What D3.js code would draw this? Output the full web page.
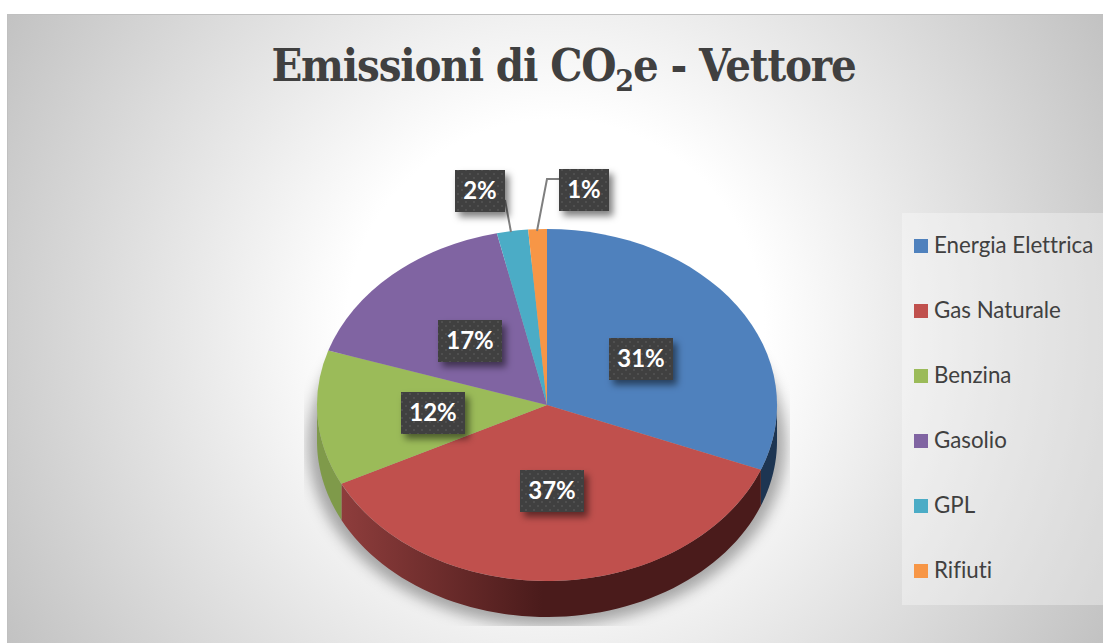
<!DOCTYPE html>
<html>
<head>
<meta charset="utf-8">
<script src="https://cdn.jsdelivr.net/npm/d3@7"></script>
<style>
html, body { margin: 0; padding: 0; background: #fff; overflow: hidden; }
svg { display: block; }
text { font-variant-ligatures: none; }
</style>
</head>
<body>
<div id="chart"></div>
<script>
//chart data
var categories = ["Energia Elettrica", "Gas Naturale", "Benzina", "Gasolio", "GPL", "Rifiuti"];
var values = [31.0, 36.6, 12.4, 16.5, 2.2, 1.3];
var labels = ["31%", "37%", "12%", "17%", "2%", "1%"];
var colors = ["#4f81bd", "#c0504d", "#9bbb59", "#8064a2", "#4bacc6", "#f79646"];
var wallLeft = ["#1d3552", "#8e3d3c", "#7f9a4a", "#5a4672", "#2f7386", "#a8652f"];
var wallRight = ["#1d3552", "#4a1b1b", "#7f9a4a", "#5a4672", "#2f7386", "#a8652f"];

var width = 1103;
var height = 643;

//pie geometry
var cx = 547, cy = 405;
var rx = 230, ry = 176;
var depth = 36;
var labelRadius = 0.495;

var svg = d3.select("#chart").append("svg")
	.attr("width", width)
	.attr("height", height);

var defs = svg.append("defs");

//panel background
var bg = defs.append("radialGradient")
	.attr("id", "panelBg")
	.attr("gradientUnits", "userSpaceOnUse")
	.attr("cx", 555).attr("cy", 328).attr("r", 632);
bg.append("stop").attr("offset", "0.33").attr("stop-color", "#ffffff");
bg.append("stop").attr("offset", "1").attr("stop-color", "#c2c2c2");

svg.append("rect")
	.attr("x", 7.5).attr("y", 14.5)
	.attr("width", width).attr("height", height)
	.style("fill", "url(#panelBg)")
	.style("stroke", "#c0c0c0");

//legend backing
svg.append("rect")
	.attr("x", 902).attr("y", 213)
	.attr("width", 201).attr("height", 392)
	.style("fill", "#ffffff")
	.style("fill-opacity", 0.33);

//title
var title = svg.append("text")
	.attr("x", 563.5).attr("y", 81)
	.attr("text-anchor", "middle")
	.style("font-family", "'DejaVu Serif Condensed', 'DejaVu Serif', serif")
	.style("font-weight", "bold")
	.style("font-size", "45px")
	.style("letter-spacing", "-1.15px")
	.style("fill", "#404040");
title.append("tspan").text("Emissioni di CO");
title.append("tspan").attr("dy", 10).style("font-size", "30px").text("2");
title.append("tspan").attr("dy", -10).text("e - Vettore");

//filters
var blur = defs.append("filter")
	.attr("id", "pieBlur")
	.attr("filterUnits", "userSpaceOnUse")
	.attr("x", 200).attr("y", 150).attr("width", 700).attr("height", 560);
blur.append("feGaussianBlur").attr("stdDeviation", 7);

var labelShadow = defs.append("filter")
	.attr("id", "labelShadow")
	.attr("x", "-30%").attr("y", "-30%").attr("width", "170%").attr("height", "180%");
labelShadow.append("feDropShadow")
	.attr("dx", 4).attr("dy", 5).attr("stdDeviation", 3.5)
	.attr("flood-color", "#000").attr("flood-opacity", 0.5);

//shadow is cut off by a rectangle around the pie
defs.append("clipPath").attr("id", "shadowClip")
	.append("rect")
	.attr("x", 304).attr("y", 190).attr("width", 486).attr("height", 436);

svg.append("g")
	.attr("clip-path", "url(#shadowClip)")
	.append("ellipse")
	.attr("cx", cx).attr("cy", cy + depth + 3)
	.attr("rx", rx + 9).attr("ry", ry + 6)
	.attr("filter", "url(#pieBlur)")
	.style("fill", "#000")
	.style("fill-opacity", 0.32);

//slices
var pie = d3.pie().sort(null).value(function(d) { return d; });
var slices = pie(values);

var xScale = d3.scaleLinear().domain([-1, 1]).range([cx - rx, cx + rx]);
var yScale = d3.scaleLinear().domain([-1, 1]).range([cy - ry, cy + ry]);

function rimX(a) { return xScale(Math.sin(a)); }
function rimY(a) { return yScale(-Math.cos(a)); }

//outer wall, only the front half of the pie shows it
var wallLine = d3.line();
slices.forEach(function(d, i)
{
	var a0 = Math.max(d.startAngle, Math.PI / 2);
	var a1 = Math.min(d.endAngle, Math.PI * 1.5);
	if(a1 <= a0)
	{
		return;
	}

	var top = d3.range(0, 61).map(function(k)
	{
		var a = a0 + (a1 - a0) * k / 60;
		return [rimX(a), rimY(a)];
	});
	var bottom = top.map(function(p) { return [p[0], p[1] + depth]; }).reverse();

	var xs = top.map(function(p) { return p[0]; });
	var grad = defs.append("linearGradient")
		.attr("id", "wall" + i)
		.attr("gradientUnits", "userSpaceOnUse")
		.attr("x1", d3.min(xs)).attr("x2", d3.max(xs))
		.attr("y1", 0).attr("y2", 0);
	grad.append("stop").attr("offset", "0").attr("stop-color", wallLeft[i]);
	grad.append("stop").attr("offset", "0.48").attr("stop-color", wallRight[i]);

	svg.append("path")
		.attr("d", wallLine(top.concat(bottom)) + "Z")
		.style("fill", "url(#wall" + i + ")");
});

//top face, a circle arc squashed into an ellipse
var arc = d3.arc().innerRadius(0).outerRadius(1);
svg.append("g")
	.attr("transform", "translate(" + cx + "," + cy + ") scale(" + rx + "," + ry + ")")
	.selectAll("path")
	.data(slices)
	.enter().append("path")
	.attr("d", arc)
	.style("fill", function(d, i) { return colors[i]; });

//dotted texture of the label boxes
var dots = defs.append("pattern")
	.attr("id", "labelDots")
	.attr("patternUnits", "userSpaceOnUse")
	.attr("width", 8).attr("height", 8);
dots.append("rect").attr("width", 8).attr("height", 8).style("fill", "#404040");
dots.append("circle").attr("cx", 2).attr("cy", 2).attr("r", 1).style("fill", "#555555");
dots.append("circle").attr("cx", 6).attr("cy", 6).attr("r", 1).style("fill", "#555555");

//leader lines of the two small slices
var leader = d3.line();
[[[505, 200], [511, 232]], [[559, 179], [547, 179], [537, 231]]].forEach(function(pts)
{
	svg.append("path")
		.attr("d", leader(pts))
		.style("fill", "none")
		.style("stroke", "#7f7f7f")
		.style("stroke-width", 2);
});

//labels sit inside the slice, the two small ones are pulled out
var outside = { 4: [480, 191], 5: [584, 190] };
var nudgeY = [3, -1, 1, 0, 0, 0];
slices.forEach(function(d, i)
{
	var mid = (d.startAngle + d.endAngle) / 2;
	var px = outside[i] ? outside[i][0] : xScale(Math.sin(mid) * labelRadius);
	var py = outside[i] ? outside[i][1] : yScale(-Math.cos(mid) * labelRadius) + nudgeY[i];
	var w = labels[i].length > 2 ? 64 : 50;

	svg.append("rect")
		.attr("x", Math.round(px - w / 2)).attr("y", Math.round(py - 21))
		.attr("width", w).attr("height", 42)
		.attr("filter", "url(#labelShadow)")
		.style("fill", "url(#labelDots)");

	svg.append("text")
		.attr("x", Math.round(px)).attr("y", Math.round(py) + 8)
		.attr("text-anchor", "middle")
		.style("font-family", "Lato, sans-serif")
		.style("font-weight", "bold")
		.style("font-size", "24px")
		.style("fill", "#ffffff")
		.text(labels[i]);
});

//legend
var legendY = d3.scalePoint().domain(categories).range([246, 571]);
var legend = svg.append("g").selectAll("g")
	.data(categories)
	.enter().append("g")
	.attr("transform", function(d) { return "translate(914," + legendY(d) + ")"; });

legend.append("rect")
	.attr("y", -7)
	.attr("width", 14).attr("height", 14)
	.style("fill", function(d, i) { return colors[i]; });

legend.append("text")
	.attr("x", 20).attr("y", 7)
	.style("font-family", "Lato, sans-serif")
	.style("font-size", "22.3px")
	.style("fill", "#404040")
	.text(function(d) { return d; });
</script>
</body>
</html>
